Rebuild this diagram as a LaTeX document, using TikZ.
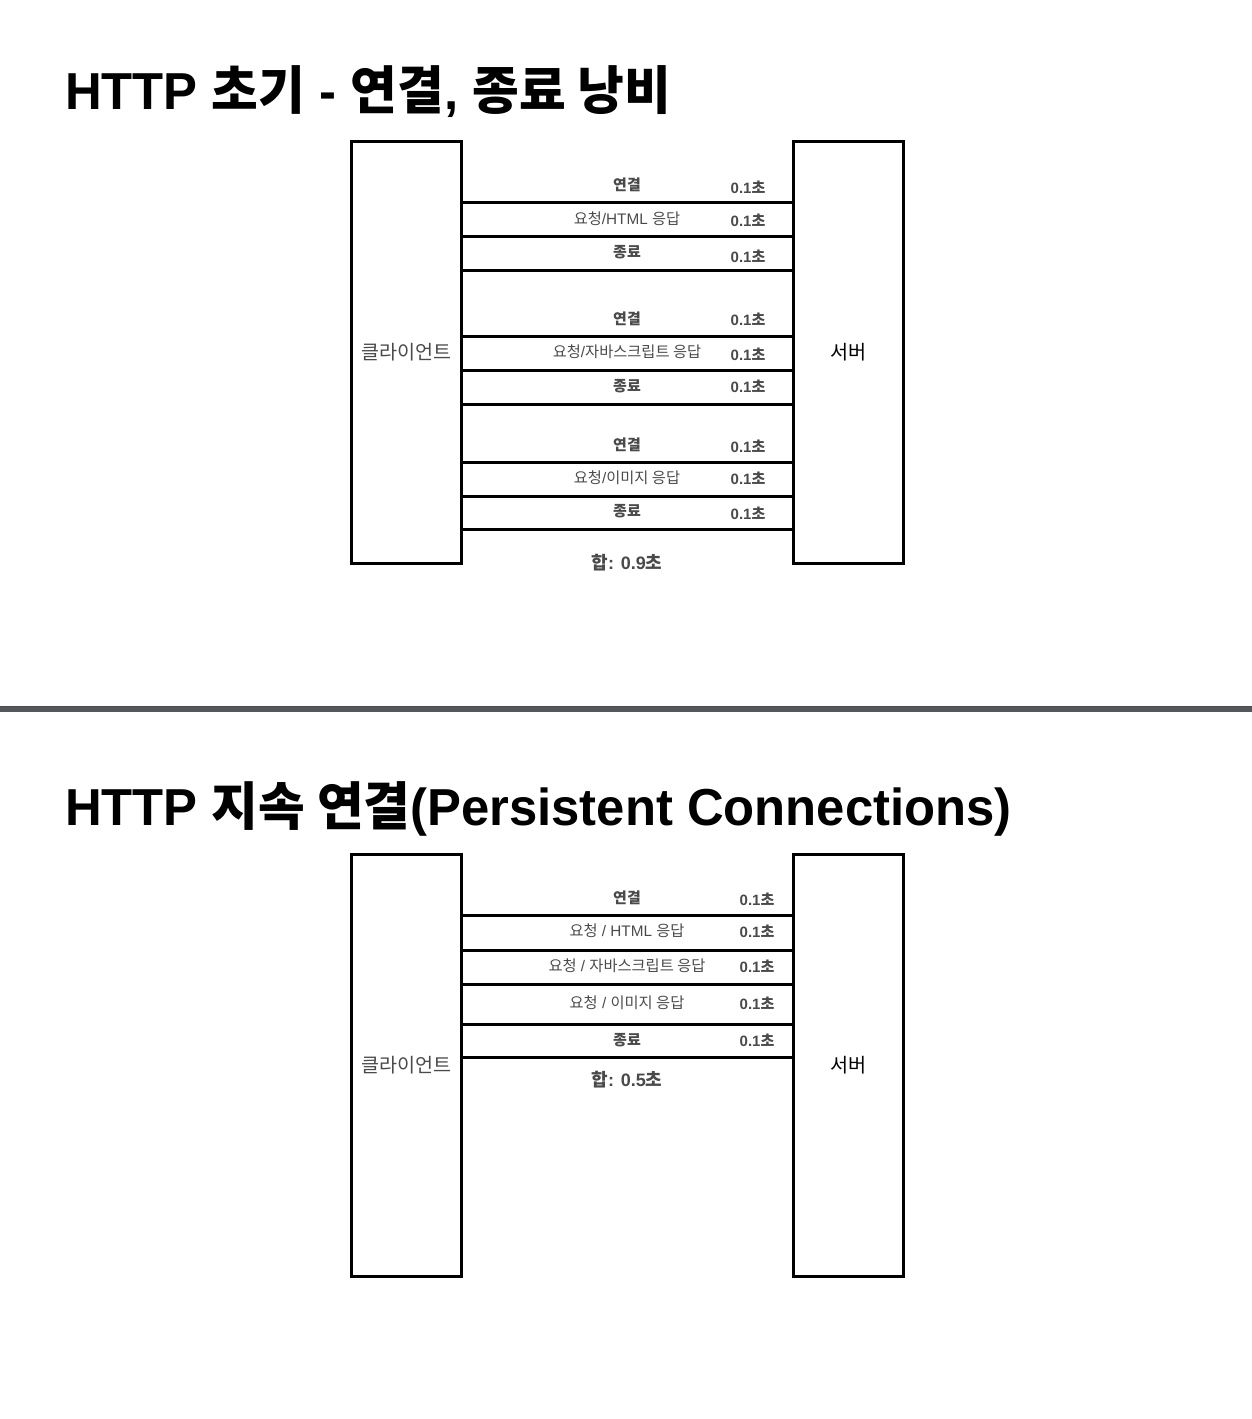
\documentclass[tikz,border=0pt]{standalone}
\usepackage{fontspec}
\setmainfont{Liberation Sans}
\newfontfamily\krfont{Noto Sans CJK KR}
\newcommand{\ko}[1]{{\krfont #1}}
\definecolor{labelgray}{HTML}{4A4A4A}
\definecolor{rulegray}{HTML}{54585C}

\tikzset{
  box/.style={draw, line width=3pt, minimum width=110pt, minimum height=422pt, inner sep=0pt,
    text=labelgray, font=\krfont\fontsize{19.6}{22}\selectfont},
  bar/.style={line width=3pt},
  stage/.style={text=labelgray, inner sep=0pt, font=\fontsize{15.3}{17}\selectfont},
  stagebold/.style={stage, font=\bfseries\fontsize{15}{17}\selectfont},
  cost/.style={stage, font=\bfseries\fontsize{15}{17}\selectfont},
  total/.style={stage, font=\bfseries\fontsize{18}{21}\selectfont},
  heading/.style={anchor=base west, inner sep=0pt, xscale=0.977, transform shape,
    font=\bfseries\fontsize{52}{60}\selectfont}
}

\begin{document}
\begin{tikzpicture}[x=1pt, y=-1pt]
    \useasboundingbox (0,0) rectangle (1252,1419);

    % first picture
    \node[heading] (title1) at (65,109) {HTTP \ko{초기} - \ko{연결}, \ko{종료 낭비}};

    \node[box] (client1) at (406.5,352.5) {클라이언트};
    \node[box, text=black] (server1) at (848.5,352.5) {서버};

    \foreach \y in {202,236,270,336,370,404,462,496,529}
      \draw[bar] (client1.east |- 0,\y) -- (server1.west |- 0,\y);

    \node[stagebold] (open1) at (627,185) {\ko{연결}};
    \node[stage] (html1) at (627,219) {\ko{요청}/HTML \ko{응답}};
    \node[stagebold] (close1) at (627,252) {\ko{종료}};
    \node[stagebold] (open2) at (627,319) {\ko{연결}};
    \node[stage] (js1) at (627,352) {\ko{요청}/\ko{자바스크립트 응답}};
    \node[stagebold] (close2) at (627,386) {\ko{종료}};
    \node[stagebold] (open3) at (627,445) {\ko{연결}};
    \node[stage] (img1) at (627,478) {\ko{요청}/\ko{이미지 응답}};
    \node[stagebold] (close3) at (627,511) {\ko{종료}};

    \foreach \y in {187,220,256,319,354,386,446,478,513}
      \node[cost] (costa\y) at (748,\y) {0.1\ko{초}};

    \node[total] (sum1) at (627,563) {\ko{합}: 0.9\ko{초}};

    % separator
    \fill[rulegray] (0,706) rectangle (1252,712);
    \draw[black!70, line width=0.8pt] (0,706.4) -- (1252,706.4);

    % second picture
    \node[heading] (title2) at (65,825) {HTTP \ko{지속 연결}(Persistent Connections)};

    \node[box] (client2) at (406.5,1065) {클라이언트};
    \node[box, text=black] (server2) at (848.5,1065) {서버};

    \foreach \y in {915,950,984,1024,1057}
      \draw[bar] (client2.east |- 0,\y) -- (server2.west |- 0,\y);

    \node[stagebold] (open4) at (627,898) {\ko{연결}};
    \node[stage] (html2) at (627,931) {\ko{요청} / HTML \ko{응답}};
    \node[stage] (js2) at (627,966) {\ko{요청} / \ko{자바스크립트 응답}};
    \node[stage] (img2) at (627,1003) {\ko{요청} / \ko{이미지 응답}};
    \node[stagebold] (close4) at (627,1040) {\ko{종료}};

    \foreach \y in {899,931,966,1003,1040}
      \node[cost] (costb\y) at (757,\y) {0.1\ko{초}};

    \node[total] (sum2) at (627,1080) {\ko{합}: 0.5\ko{초}};
\end{tikzpicture}
\end{document}
